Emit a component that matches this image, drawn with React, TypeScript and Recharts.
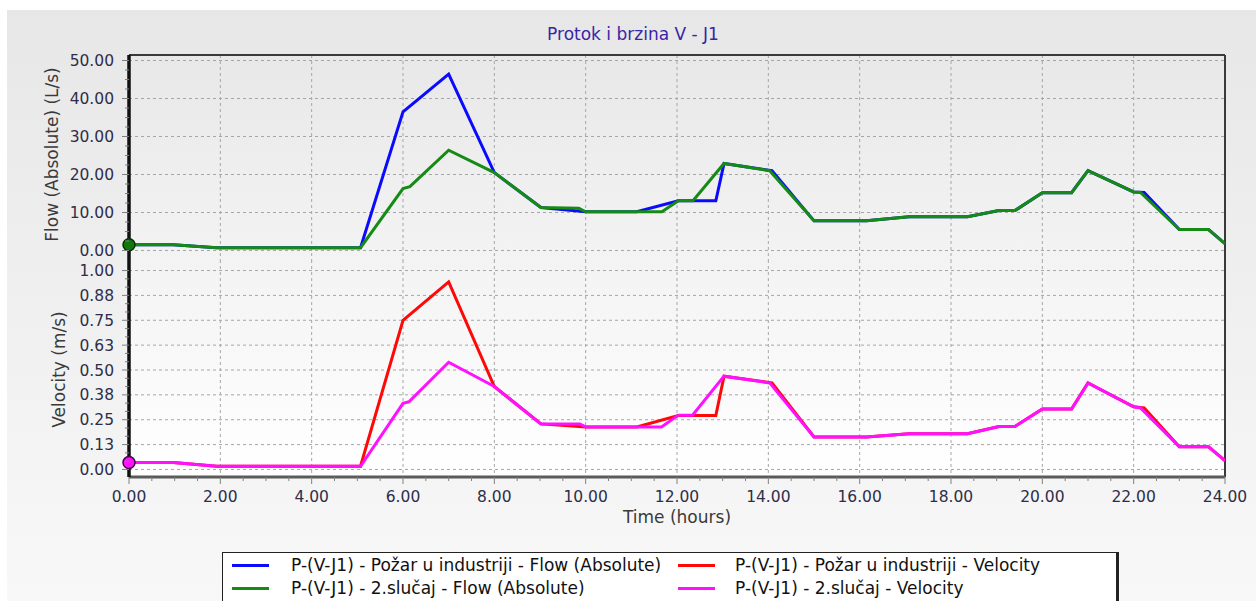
import React from 'react';
import { LineChart, Line, XAxis, YAxis, CartesianGrid, ReferenceLine, ReferenceDot } from 'recharts';

// ---------- text ----------
const TITLE = 'Protok i brzina V - J1';
const FLOW_AXIS_LABEL = 'Flow (Absolute) (L/s)';
const VEL_AXIS_LABEL = 'Velocity (m/s)';
const TIME_AXIS_LABEL = 'Time (hours)';

const NAME_FIRE_FLOW = 'P-(V-J1) - Požar u industriji - Flow (Absolute)';
const NAME_CASE2_FLOW = 'P-(V-J1) - 2.slučaj - Flow (Absolute)';
const NAME_FIRE_VEL = 'P-(V-J1) - Požar u industriji - Velocity';
const NAME_CASE2_VEL = 'P-(V-J1) - 2.slučaj - Velocity';

// ---------- data (time in hours) ----------
const fireFlowTimes = [0, 0.97, 1.92, 5.07, 6.0, 7.0, 8.0, 9.02, 10.0, 11.12, 12.03, 12.85, 13.03, 14.08, 15.0, 16.15, 17.08, 18.36, 19.05, 19.4, 20.0, 20.64, 21.0, 22.0, 22.23, 23.0, 23.64, 24.0];
const fireFlowValues = [1.5, 1.5, 0.75, 0.75, 36.5, 46.4, 20.5, 11.3, 10.2, 10.2, 13.1, 13.1, 22.9, 21.0, 7.8, 7.8, 8.9, 8.9, 10.5, 10.5, 15.2, 15.2, 21.0, 15.4, 15.3, 5.5, 5.5, 1.8];

const case2FlowTimes = [0, 0.97, 1.92, 5.07, 6.0, 6.15, 7.0, 8.0, 9.02, 9.85, 10.0, 11.67, 12.03, 12.35, 13.03, 14.03, 15.0, 16.15, 17.08, 18.36, 19.05, 19.4, 20.0, 20.64, 21.0, 22.0, 22.15, 23.0, 23.64, 24.0];
const case2FlowValues = [1.5, 1.5, 0.75, 0.75, 16.3, 16.8, 26.4, 20.5, 11.3, 11.1, 10.2, 10.2, 13.1, 13.1, 22.9, 21.0, 7.8, 7.8, 8.9, 8.9, 10.5, 10.5, 15.2, 15.2, 21.0, 15.4, 15.3, 5.5, 5.5, 1.8];

const fireVelTimes = [0, 0.97, 1.92, 5.07, 6.0, 7.0, 8.0, 9.02, 10.0, 11.12, 12.03, 12.85, 13.03, 14.08, 15.0, 16.15, 17.08, 18.36, 19.05, 19.4, 20.0, 20.64, 21.0, 22.0, 22.23, 23.0, 23.64, 24.0];
const fireVelValues = [0.035, 0.035, 0.016, 0.016, 0.75, 0.943, 0.417, 0.229, 0.214, 0.214, 0.271, 0.271, 0.469, 0.435, 0.163, 0.163, 0.18, 0.18, 0.216, 0.216, 0.304, 0.304, 0.435, 0.315, 0.309, 0.114, 0.114, 0.044];

const case2VelTimes = [0, 0.97, 1.92, 5.07, 6.0, 6.13, 7.0, 8.0, 9.02, 9.87, 10.0, 11.66, 12.03, 12.34, 13.03, 14.03, 15.0, 16.15, 17.08, 18.36, 19.05, 19.4, 20.0, 20.64, 21.0, 22.0, 22.15, 23.0, 23.64, 24.0];
const case2VelValues = [0.035, 0.035, 0.016, 0.016, 0.332, 0.34, 0.539, 0.417, 0.229, 0.229, 0.214, 0.214, 0.273, 0.273, 0.469, 0.435, 0.163, 0.163, 0.18, 0.18, 0.216, 0.216, 0.304, 0.304, 0.435, 0.315, 0.309, 0.114, 0.114, 0.044];

// ---------- ticks ----------
const timeMajorTicks = [0, 2, 4, 6, 8, 10, 12, 14, 16, 18, 20, 22, 24];
const timeTickLabels = ['0.00', '2.00', '4.00', '6.00', '8.00', '10.00', '12.00', '14.00', '16.00', '18.00', '20.00', '22.00', '24.00'];
const flowMajorTicks = [0, 10, 20, 30, 40, 50];
const flowTickLabels = ['0.00', '10.00', '20.00', '30.00', '40.00', '50.00'];
const velMajorTicks = [0, 0.125, 0.25, 0.375, 0.5, 0.625, 0.75, 0.875, 1.0];
const velTickLabels = ['0.00', '0.13', '0.25', '0.38', '0.50', '0.63', '0.75', '0.88', '1.00'];

const FLOW_DOMAIN: [number, number] = [-2.5, 51.45];
const VEL_DOMAIN: [number, number] = [-0.038, 1.053];

const withMinors = (majors: number[], parts: number) => {
  const out: number[] = [];
  for (let i = 0; i < majors.length; i++) {
    out.push(majors[i]);
    if (i < majors.length - 1) {
      const step = (majors[i + 1] - majors[i]) / parts;
      for (let k = 1; k < parts; k++) out.push(majors[i] + step * k);
    }
  }
  return out;
};

const zip = (ts: number[], vs: number[]) => ts.map((t, i) => ({ t, v: vs[i] }));

const fireFlowData = zip(fireFlowTimes, fireFlowValues);
const case2FlowData = zip(case2FlowTimes, case2FlowValues);
const fireVelData = zip(fireVelTimes, fireVelValues);
const case2VelData = zip(case2VelTimes, case2VelValues);

// ---------- style ----------
const FONT = '"DejaVu Sans", Verdana, sans-serif';
const BLUE = '#0a0aff';
const GREEN = '#158a15';
const RED = '#ff0808';
const MAGENTA = '#ff10ff';
const GRID = '#a6a6a6';
const TICK_TEXT = '#2e2e4a';
const AXIS_TITLE = '#3a3a3a';

const legendItems = [
  { name: NAME_FIRE_FLOW, color: BLUE, col: 0, row: 0 },
  { name: NAME_FIRE_VEL, color: RED, col: 1, row: 0 },
  { name: NAME_CASE2_FLOW, color: GREEN, col: 0, row: 1 },
  { name: NAME_CASE2_VEL, color: MAGENTA, col: 1, row: 1 },
];

const isMajor = (majors: number[], v: number) => majors.findIndex((m) => Math.abs(m - v) < 1e-9);

const makeYTick = (majors: number[], labels: string[]) => (props: any) => {
  const { x, y, payload } = props;
  const idx = isMajor(majors, payload.value);
  const major = idx >= 0;
  return (
    <g>
      <line x1={x - (major ? 7 : 4)} x2={x} y1={y} y2={y} stroke="#808080" strokeWidth={1} />
      {major && (
        <text x={x - 15} y={y} dy="0.36em" textAnchor="end" fontFamily={FONT} fontSize={15.5} fill={TICK_TEXT}>
          {labels[idx]}
        </text>
      )}
    </g>
  );
};

const XTick = (props: any) => {
  const { x, y, payload } = props;
  const idx = isMajor(timeMajorTicks, payload.value);
  const major = idx >= 0;
  return (
    <g>
      <line x1={x} x2={x} y1={y} y2={y + (major ? 7 : 4)} stroke="#808080" strokeWidth={1} />
      {major && (
        <text x={x} y={y + 19} dy="0.36em" textAnchor="middle" fontFamily={FONT} fontSize={15.5} fill={TICK_TEXT}>
          {timeTickLabels[idx]}
        </text>
      )}
    </g>
  );
};

const verticalGridValues = [2, 4, 6, 8, 10, 12, 14, 16, 18, 20, 22];

export default function App() {
  return (
    <div style={{ position: 'absolute', left: 0, top: 0, width: 1256, height: 601, background: '#ffffff', overflow: 'hidden', fontFamily: FONT }}>
      {/* outer panel */}
      <div style={{ position: 'absolute', left: 7, top: 10, width: 1249, height: 591, background: 'linear-gradient(#e7e7e7, #f8f8f8)' }} />
      {/* plot background */}
      <div style={{ position: 'absolute', left: 129, top: 55, width: 1096, height: 422, background: 'linear-gradient(#e8e8e8, #ffffff)' }} />

      <div style={{ position: 'absolute', left: 0, top: 25.8, width: 1266, textAlign: 'center', fontSize: 17, lineHeight: '17px', color: '#3a24a6' }}>
        {TITLE}
      </div>

      {/* Flow panel */}
      <div style={{ position: 'absolute', left: 0, top: 0 }}>
        <LineChart width={1256} height={260} margin={{ top: 55, right: 31, bottom: 0, left: 69 }}>
          <CartesianGrid stroke={GRID} strokeDasharray="3 3" horizontalValues={flowMajorTicks} verticalValues={verticalGridValues} />
          <XAxis type="number" dataKey="t" domain={[0, 24]} hide allowDataOverflow />
          <YAxis
            type="number"
            domain={FLOW_DOMAIN}
            allowDataOverflow
            width={60}
            ticks={withMinors(flowMajorTicks, 4)}
            interval={0}
            tickSize={0}
            tickMargin={0}
            tickLine={false}
            tick={makeYTick(flowMajorTicks, flowTickLabels)}
            axisLine={{ stroke: '#111', strokeWidth: 3.5 }}
            label={{
              content: (p: any) => {
                const vb = p.viewBox;
                const cx = 52;
                const cy = vb.y + vb.height / 2 - 3;
                return (
                  <text x={cx} y={cy} transform={`rotate(-90 ${cx} ${cy})`} textAnchor="middle" dy="0.36em" fontFamily={FONT} fontSize={17} fill={AXIS_TITLE}>
                    {FLOW_AXIS_LABEL}
                  </text>
                );
              },
            }}
          />
          <ReferenceLine y={FLOW_DOMAIN[1]} stroke="#3a3a3a" strokeWidth={2} />
          <ReferenceLine x={24} stroke="#3a3a3a" strokeWidth={2} />
          <Line data={fireFlowData} dataKey="v" stroke={BLUE} strokeWidth={3} dot={false} activeDot={false} isAnimationActive={false} name={NAME_FIRE_FLOW} />
          <Line data={case2FlowData} dataKey="v" stroke={GREEN} strokeWidth={3} dot={false} activeDot={false} isAnimationActive={false} name={NAME_CASE2_FLOW} />
          <ReferenceDot x={case2FlowTimes[0]} y={case2FlowValues[0]} r={6} fill="#0e7a0e" stroke="#0a2a0a" strokeWidth={1.5} />
        </LineChart>
      </div>

      {/* Velocity panel */}
      <div style={{ position: 'absolute', left: 0, top: 260 }}>
        <LineChart width={1256} height={280} margin={{ top: 0, right: 31, bottom: 0, left: 69 }}>
          <CartesianGrid stroke={GRID} strokeDasharray="3 3" horizontalValues={velMajorTicks} verticalValues={verticalGridValues} />
          <XAxis
            type="number"
            dataKey="t"
            domain={[0, 24]}
            allowDataOverflow
            height={63}
            ticks={withMinors(timeMajorTicks, 4)}
            interval={0}
            tickSize={0}
            tickMargin={0}
            tickLine={false}
            tick={XTick}
            axisLine={{ stroke: '#5a5a5a', strokeWidth: 3 }}
            label={{
              content: (p: any) => {
                const vb = p.viewBox;
                return (
                  <text x={vb.x + vb.width / 2} y={vb.y + 40} dy="0.36em" textAnchor="middle" fontFamily={FONT} fontSize={17} fill={AXIS_TITLE}>
                    {TIME_AXIS_LABEL}
                  </text>
                );
              },
            }}
          />
          <YAxis
            type="number"
            domain={VEL_DOMAIN}
            allowDataOverflow
            width={60}
            ticks={withMinors(velMajorTicks, 3)}
            interval={0}
            tickSize={0}
            tickMargin={0}
            tickLine={false}
            tick={makeYTick(velMajorTicks, velTickLabels)}
            axisLine={{ stroke: '#111', strokeWidth: 3.5 }}
            label={{
              content: (p: any) => {
                const vb = p.viewBox;
                const cx = 59;
                const cy = vb.y + vb.height / 2 + 1;
                return (
                  <text x={cx} y={cy} transform={`rotate(-90 ${cx} ${cy})`} textAnchor="middle" dy="0.36em" fontFamily={FONT} fontSize={17} fill={AXIS_TITLE}>
                    {VEL_AXIS_LABEL}
                  </text>
                );
              },
            }}
          />
          <ReferenceLine x={24} stroke="#3a3a3a" strokeWidth={2} />
          <Line data={fireVelData} dataKey="v" stroke={RED} strokeWidth={3} dot={false} activeDot={false} isAnimationActive={false} name={NAME_FIRE_VEL} />
          <Line data={case2VelData} dataKey="v" stroke={MAGENTA} strokeWidth={3} dot={false} activeDot={false} isAnimationActive={false} name={NAME_CASE2_VEL} />
          <ReferenceDot x={case2VelTimes[0]} y={case2VelValues[0]} r={6} fill={MAGENTA} stroke="#3a0a3a" strokeWidth={1.5} />
        </LineChart>
      </div>

      {/* Legend */}
      <div
        style={{
          position: 'absolute',
          left: 222,
          top: 552,
          width: 893,
          height: 60,
          background: '#ffffff',
          borderTop: '1px solid #222',
          borderLeft: '1px solid #222',
          borderRight: '3px solid #222',
          borderBottom: '3px solid #222',
        }}
      >
        {legendItems.map((it) => {
          const swX = it.col === 0 ? 9 : 455;
          const txX = it.col === 0 ? 68 : 512;
          const cy = it.row === 0 ? 12 : 35;
          return (
            <React.Fragment key={it.name}>
              <div style={{ position: 'absolute', left: swX, top: cy - 1.5, width: 37, height: 3, background: it.color }} />
              <div style={{ position: 'absolute', left: txX, top: cy - 8.5, fontSize: 17, lineHeight: '17px', color: '#111', whiteSpace: 'nowrap' }}>
                {it.name}
              </div>
            </React.Fragment>
          );
        })}
      </div>
    </div>
  );
}
